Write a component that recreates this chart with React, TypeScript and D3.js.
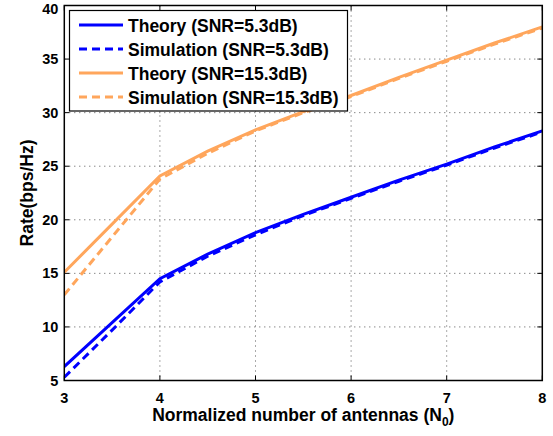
import React from "react";
import * as d3 from "d3";

const xs = [3, 3.5, 4, 4.5, 5, 5.5, 6, 6.5, 7, 7.5, 8];
const theoryLow = [6.3, 10.4, 14.5, 16.8, 18.8, 20.5, 22.1, 23.7, 25.2, 26.8, 28.3];
const simLow = [5.3, 9.7, 14.2, 16.6, 18.6, 20.4, 22.0, 23.6, 25.1, 26.7, 28.2];
const theoryHigh = [15.1, 19.6, 24.1, 26.4, 28.4, 30.1, 31.6, 33.3, 34.9, 36.5, 38.0];
const simHigh = [13.0, 18.4, 23.8, 26.2, 28.3, 30.0, 31.5, 33.2, 34.8, 36.4, 37.9];
const xTicks = [3, 4, 5, 6, 7, 8];
const yTicks = [5, 10, 15, 20, 25, 30, 35, 40];
const legendLabels = [
  "Theory (SNR=5.3dB)",
  "Simulation (SNR=5.3dB)",
  "Theory (SNR=15.3dB)",
  "Simulation (SNR=15.3dB)",
];

const W = 553;
const H = 436;
const L = 64.3;
const R = 542.3;
const T = 5.5;
const B = 380.5;
const BLUE = "#0000ff";
const ORANGE = "#ffa65c";
const FONT = "'Liberation Sans', Arial, Helvetica, sans-serif";

export default function App() {
  const x = d3.scaleLinear().domain([3, 8]).range([L, R]);
  const y = d3.scaleLinear().domain([5, 40]).range([B, T]);
  const line = d3
    .line<[number, number]>()
    .x((d) => x(d[0]))
    .y((d) => y(d[1]));
  const mk = (vals: number[]) => line(xs.map((v, i) => [v, vals[i]] as [number, number])) || "";

  const series = [
    { vals: theoryLow, color: BLUE, dash: undefined as string | undefined },
    { vals: simLow, color: BLUE, dash: "8,5" },
    { vals: theoryHigh, color: ORANGE, dash: undefined },
    { vals: simHigh, color: ORANGE, dash: "8,5" },
  ];

  return (
    <svg
      width={W}
      height={H}
      style={{ position: "absolute", left: 0, top: 0, background: "#fff" }}
      fontFamily={FONT}
    >
      <rect x={0} y={0} width={W} height={H} fill="#fff" />
      <defs>
        <clipPath id="plot">
          <rect x={L} y={T} width={R - L} height={B - T} />
        </clipPath>
      </defs>
      {/* grid */}
      {xTicks.slice(1, -1).map((t) => (
        <line key={"gx" + t} x1={x(t)} x2={x(t)} y1={T} y2={B} stroke="#555" strokeWidth={1} strokeDasharray="1,4" />
      ))}
      {yTicks.slice(1, -1).map((t) => (
        <line key={"gy" + t} x1={L} x2={R} y1={y(t)} y2={y(t)} stroke="#555" strokeWidth={1} strokeDasharray="1,4" />
      ))}
      {/* ticks */}
      {xTicks.map((t) => (
        <g key={"tx" + t}>
          <line x1={x(t)} x2={x(t)} y1={B} y2={B - 5} stroke="#000" />
          <line x1={x(t)} x2={x(t)} y1={T} y2={T + 5} stroke="#000" />
          <text x={x(t)} y={B + 22} textAnchor="middle" fontSize={14.5} fontWeight="bold">
            {t}
          </text>
        </g>
      ))}
      {yTicks.map((t) => (
        <g key={"ty" + t}>
          <line x1={L} x2={L + 5} y1={y(t)} y2={y(t)} stroke="#000" />
          <line x1={R} x2={R - 5} y1={y(t)} y2={y(t)} stroke="#000" />
          <text x={L - 6} y={Math.max(y(t) + 5, 13.5)} textAnchor="end" fontSize={14.5} fontWeight="bold">
            {t}
          </text>
        </g>
      ))}
      {/* series */}
      <g clipPath="url(#plot)">
        {series.map((s, i) => (
          <path key={i} d={mk(s.vals)} fill="none" stroke={s.color} strokeWidth={3} strokeDasharray={s.dash} />
        ))}
      </g>
      {/* box */}
      <rect x={L} y={T} width={R - L} height={B - T} fill="none" stroke="#000" strokeWidth={1.5} />
      {/* legend */}
      <rect x={69.5} y={10.5} width={278} height={100.5} fill="#fff" stroke="#000" strokeWidth={1.2} />
      {legendLabels.map((lab, i) => {
        const yy = 25 + i * 24;
        const s = series[i];
        return (
          <g key={lab}>
            <line x1={79} x2={123} y1={yy} y2={yy} stroke={s.color} strokeWidth={3} strokeDasharray={s.dash} />
            <text x={128} y={yy + 6.5} fontSize={17.5} fontWeight="bold">
              {lab}
            </text>
          </g>
        );
      })}
      {/* axis labels */}
      <text
        transform={`translate(33, ${(T + B) / 2}) rotate(-90)`}
        textAnchor="middle"
        fontSize={17.5}
        fontWeight="bold"
      >
        Rate(bps/Hz)
      </text>
      <text x={(L + R) / 2} y={421} textAnchor="middle" fontSize={17.5} fontWeight="bold">
        Normalized number of antennas (N
        <tspan fontSize={12} dy={5}>0</tspan>
        <tspan dy={-5}>)</tspan>
      </text>
    </svg>
  );
}
